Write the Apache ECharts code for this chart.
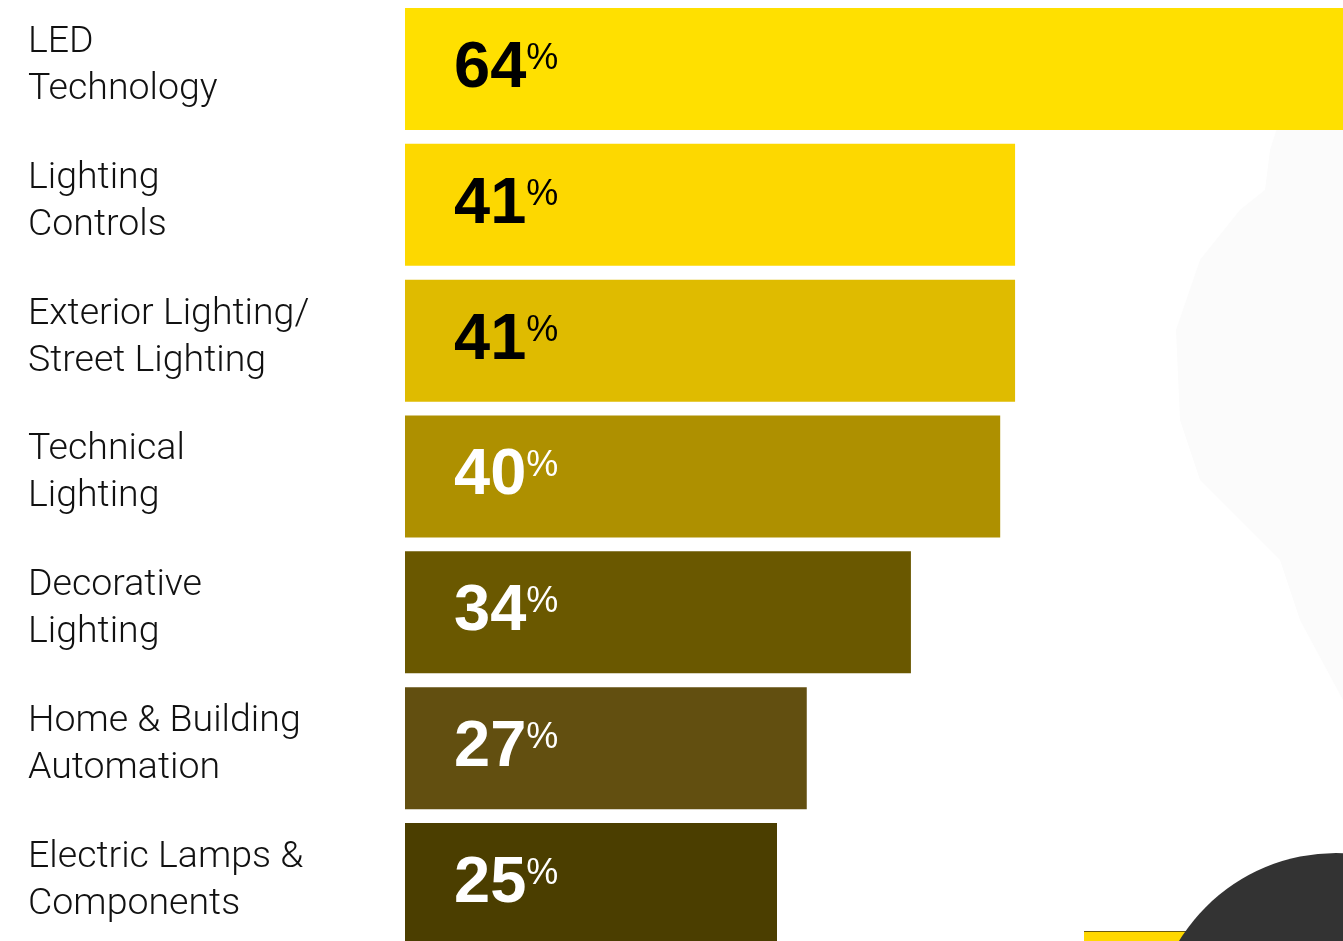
<!DOCTYPE html>
<html>
<head>
<meta charset="utf-8">
<script src="https://cdn.jsdelivr.net/npm/echarts@6/dist/echarts.min.js"></script>
<style>html,body{margin:0;padding:0;background:#fff;}#c{width:1343px;height:941px;}</style>
</head>
<body>
<div id="c"></div>
<script>
const categories = ["LED\nTechnology", "Lighting\nControls", "Exterior Lighting/\nStreet Lighting", "Technical\nLighting", "Decorative\nLighting", "Home & Building\nAutomation", "Electric Lamps &\nComponents"];
const values = [64, 41, 41, 40, 34, 27, 25];
const barColors = ["#FFE000", "#FDD800", "#DFBB00", "#AE9000", "#6A5800", "#624F10", "#4B3E00"];
const labelColors = ["#000", "#000", "#000", "#fff", "#fff", "#fff", "#fff"];

const chart = echarts.init(document.getElementById('c'), null, {renderer: 'canvas'});
chart.setOption({
  backgroundColor: '#fff',
  animation: false,
  graphic: [
    {type: 'polygon', z: -10, shape: {points: [[1277,128],[1343,128],[1343,700],[1300,620],[1280,560],[1240,520],[1200,480],[1180,420],[1176,330],[1200,260],[1240,210],[1265,190],[1270,150]]}, style: {fill: '#fbfbfb'}},
    {type: 'rect', z: 1, shape: {x: 1084, y: 931, width: 200, height: 10}, style: {fill: '#FFD800'}},
    {type: 'rect', z: 1, shape: {x: 1084, y: 931, width: 200, height: 1}, style: {fill: '#6b5a10'}},
    {type: 'circle', z: 2, shape: {cx: 1336, cy: 1037, r: 184}, style: {fill: '#333333'}}
  ],
  grid: {left: 405, right: -550, top: 1, bottom: -11, containLabel: false, outerBoundsMode: 'none'},
  xAxis: {type: 'value', min: 0, max: 100, show: false},
  yAxis: {
    type: 'category', inverse: true, data: categories,
    axisLine: {show: false}, axisTick: {show: false}, splitLine: {show: false},
    axisLabel: {
      margin: 377, align: 'left', color: '#111', fontFamily: 'Roboto', fontWeight: 300,
      fontSize: 37.5, lineHeight: 47,
      formatter: v => v + '\n{s| }',
      rich: {s: {fontSize: 1, lineHeight: 6}}
    }
  },
  series: [{
    type: 'bar', barWidth: 122,
    data: values.map((v, i) => ({value: v, itemStyle: {color: barColors[i]}, label: {color: labelColors[i]}})),
    label: {
      show: true, position: 'insideLeft', distance: 49,
      formatter: p => '{n|' + p.value + '}{p|%}',
      rich: {
        n: {fontFamily: 'Liberation Sans', fontWeight: 'bold', fontSize: 65, lineHeight: 70},
        p: {fontFamily: 'Liberation Sans', fontWeight: 'normal', fontSize: 36, lineHeight: 70, verticalAlign: 'top', padding: [7, 0, 0, 0]}
      }
    }
  }]
});
</script>
</body>
</html>
